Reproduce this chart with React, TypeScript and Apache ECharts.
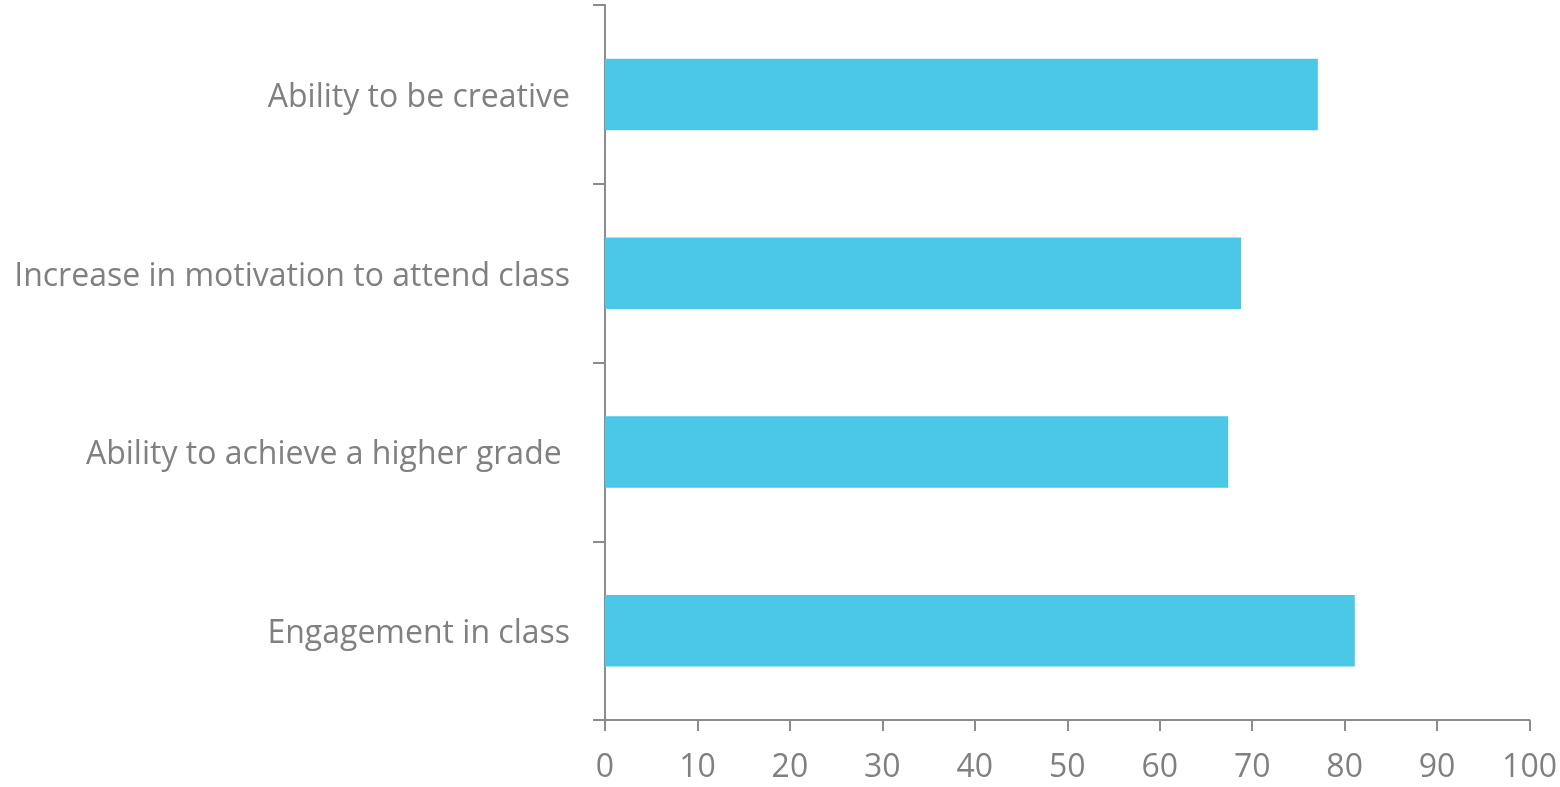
import React, { useEffect, useRef } from "react";
import * as echarts from "echarts";

const categories = [
  "Engagement in class",
  "Ability to achieve a higher grade ",
  "Increase in motivation to attend class",
  "Ability to be creative",
];
const values = [81.1, 67.4, 68.8, 77.1];
const xTicks = { min: 0, max: 100, interval: 10 };

export default function App() {
  const ref = useRef<HTMLDivElement>(null);
  useEffect(() => {
    if (!ref.current) return;
    const chart = echarts.init(ref.current, undefined, { renderer: "svg" });
    const axisColor = "#8c8c8c";
    const textColor = "#808080";
    const font = "'Open Sans', sans-serif";
    chart.setOption({
      animation: false,
      grid: { left: 605, right: 29, top: 5, bottom: 67, containLabel: false },
      xAxis: {
        type: "value",
        min: xTicks.min,
        max: xTicks.max,
        interval: xTicks.interval,
        splitLine: { show: false },
        axisLine: { show: true, lineStyle: { color: axisColor, width: 2 } },
        axisTick: { show: true, length: 11, lineStyle: { color: axisColor, width: 2 } },
        axisLabel: { color: textColor, fontSize: 32, fontFamily: font, margin: 28 },
      },
      yAxis: {
        type: "category",
        data: categories,
        axisLine: { show: true, lineStyle: { color: axisColor, width: 2 } },
        axisTick: { show: true, length: 12, lineStyle: { color: axisColor, width: 2 } },
        axisLabel: { color: textColor, fontSize: 32, fontFamily: font, margin: 35 },
      },
      series: [
        {
          type: "bar",
          data: values,
          barWidth: "40%",
          itemStyle: { color: "#4BC8E8" },
        },
      ],
    });
    return () => chart.dispose();
  }, []);
  return (
    <div
      ref={ref}
      style={{ position: "fixed", left: 0, top: 0, width: 1560, height: 787 }}
    />
  );
}
